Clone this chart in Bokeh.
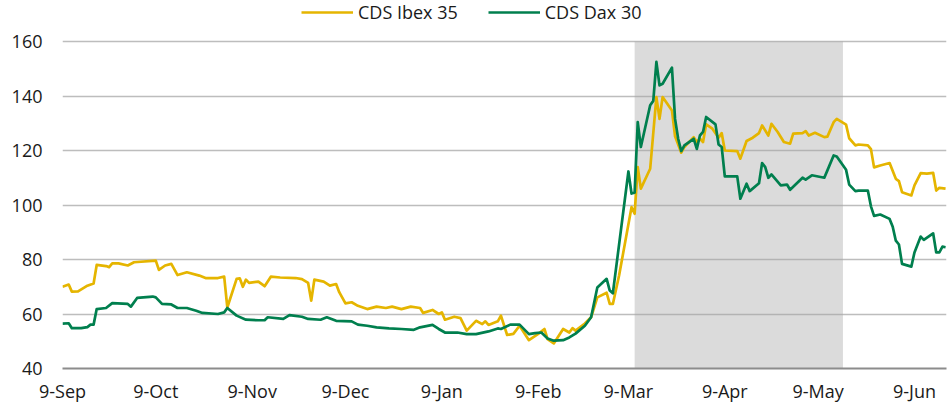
import pandas as pd
from bokeh.plotting import figure
from bokeh.models import Legend, LegendItem, BoxAnnotation, Range1d, FixedTicker, ColumnDataSource
from bokeh.embed import file_html
from bokeh.resources import INLINE

# ---------------- data ----------------
ibex_dates = ["2019-09-09", "2019-09-11", "2019-09-12", "2019-09-14", "2019-09-17", "2019-09-19", "2019-09-20",
              "2019-09-23", "2019-09-24", "2019-09-25", "2019-09-27", "2019-09-30", "2019-10-02", "2019-10-09",
              "2019-10-10", "2019-10-12", "2019-10-14", "2019-10-16", "2019-10-19", "2019-10-23", "2019-10-25",
              "2019-10-29", "2019-10-31", "2019-11-01", "2019-11-04", "2019-11-05", "2019-11-06", "2019-11-07",
              "2019-11-08", "2019-11-11", "2019-11-13", "2019-11-15", "2019-11-18", "2019-11-23", "2019-11-25",
              "2019-11-27", "2019-11-28", "2019-11-29", "2019-12-02", "2019-12-04", "2019-12-06", "2019-12-07",
              "2019-12-09", "2019-12-11", "2019-12-13", "2019-12-16", "2019-12-19", "2019-12-22", "2019-12-24",
              "2019-12-27", "2019-12-30", "2020-01-02", "2020-01-03", "2020-01-06", "2020-01-08", "2020-01-09",
              "2020-01-10", "2020-01-13", "2020-01-15", "2020-01-17", "2020-01-20", "2020-01-22", "2020-01-23",
              "2020-01-24", "2020-01-27", "2020-01-28", "2020-01-30", "2020-02-01", "2020-02-03", "2020-02-06",
              "2020-02-09", "2020-02-11", "2020-02-12", "2020-02-14", "2020-02-17", "2020-02-19", "2020-02-20",
              "2020-02-21", "2020-02-24", "2020-02-26", "2020-02-28", "2020-03-02", "2020-03-03", "2020-03-04",
              "2020-03-06", "2020-03-10", "2020-03-11", "2020-03-12", "2020-03-13", "2020-03-16", "2020-03-18",
              "2020-03-19", "2020-03-20", "2020-03-23", "2020-03-24", "2020-03-26", "2020-03-27", "2020-03-30",
              "2020-03-31", "2020-04-01", "2020-04-02", "2020-04-03", "2020-04-05", "2020-04-07", "2020-04-08",
              "2020-04-09", "2020-04-13", "2020-04-14", "2020-04-16", "2020-04-18", "2020-04-20", "2020-04-21",
              "2020-04-23", "2020-04-24", "2020-04-26", "2020-04-28", "2020-04-30", "2020-05-01", "2020-05-04",
              "2020-05-05", "2020-05-06", "2020-05-08", "2020-05-11", "2020-05-12", "2020-05-14", "2020-05-15",
              "2020-05-18", "2020-05-19", "2020-05-21", "2020-05-22", "2020-05-25", "2020-05-26", "2020-05-27",
              "2020-05-29", "2020-06-01", "2020-06-03", "2020-06-04", "2020-06-05", "2020-06-08", "2020-06-09",
              "2020-06-11", "2020-06-13", "2020-06-15", "2020-06-16", "2020-06-17", "2020-06-19"]
ibex_values = [70.0, 70.8, 68.2, 68.3, 70.4, 71.2, 78.0,
               77.6, 77.2, 78.6, 78.6, 77.8, 79.0, 79.6,
               76.2, 77.8, 78.4, 74.3, 75.3, 74.1, 73.2,
               73.2, 73.7, 62.4, 72.9, 73.1, 70.0, 72.6,
               71.4, 71.9, 70.2, 73.7, 73.4, 73.2, 72.8,
               71.4, 64.9, 72.6, 71.9, 70.4, 71.0, 68.0,
               63.9, 64.3, 63.0, 61.8, 62.7, 62.2, 62.7,
               61.8, 62.7, 62.2, 60.4, 61.5, 60.0, 60.6,
               57.9, 59.0, 58.5, 53.9, 57.5, 56.3, 57.3,
               56.0, 57.3, 59.4, 52.3, 52.7, 55.7, 50.4,
               52.7, 54.5, 50.8, 49.2, 54.5, 53.2, 54.8,
               53.9, 56.5, 58.8, 66.1, 67.8, 63.7, 63.7,
               74.1, 99.2, 96.8, 113.9, 106.0, 113.3, 139.6,
               131.6, 139.6, 134.7, 125.2, 119.2, 121.3, 124.9,
               123.1, 124.3, 123.1, 129.6, 128.0, 124.7, 126.4,
               120.0, 119.8, 117.0, 123.5, 124.7, 126.4, 129.2,
               125.5, 129.8, 126.8, 123.1, 122.5, 126.2, 126.4,
               127.1, 125.5, 126.5, 124.9, 125.1, 130.4, 131.6,
               129.5, 124.5, 121.9, 122.2, 121.9, 120.5, 113.8,
               114.5, 115.4, 109.6, 108.8, 104.7, 103.5, 107.2,
               111.7, 111.5, 111.8, 105.3, 106.3, 106.0]

dax_dates = ["2019-09-09", "2019-09-11", "2019-09-12", "2019-09-15", "2019-09-17", "2019-09-18", "2019-09-19",
             "2019-09-20", "2019-09-23", "2019-09-25", "2019-09-30", "2019-10-01", "2019-10-03", "2019-10-08",
             "2019-10-09", "2019-10-11", "2019-10-14", "2019-10-16", "2019-10-19", "2019-10-22", "2019-10-24",
             "2019-10-29", "2019-10-31", "2019-11-01", "2019-11-04", "2019-11-07", "2019-11-11", "2019-11-13",
             "2019-11-14", "2019-11-19", "2019-11-21", "2019-11-25", "2019-11-27", "2019-12-01", "2019-12-03",
             "2019-12-06", "2019-12-11", "2019-12-13", "2019-12-16", "2019-12-19", "2019-12-23", "2019-12-27",
             "2019-12-31", "2020-01-02", "2020-01-06", "2020-01-08", "2020-01-10", "2020-01-14", "2020-01-17",
             "2020-01-20", "2020-01-24", "2020-01-27", "2020-01-28", "2020-01-31", "2020-02-03", "2020-02-06",
             "2020-02-08", "2020-02-10", "2020-02-12", "2020-02-14", "2020-02-17", "2020-02-19", "2020-02-21",
             "2020-02-24", "2020-02-26", "2020-02-28", "2020-03-02", "2020-03-03", "2020-03-04", "2020-03-09",
             "2020-03-10", "2020-03-11", "2020-03-12", "2020-03-13", "2020-03-16", "2020-03-17", "2020-03-18",
             "2020-03-19", "2020-03-20", "2020-03-23", "2020-03-24", "2020-03-25", "2020-03-26", "2020-03-27",
             "2020-03-30", "2020-03-31", "2020-04-01", "2020-04-02", "2020-04-03", "2020-04-06", "2020-04-07",
             "2020-04-08", "2020-04-09", "2020-04-13", "2020-04-14", "2020-04-16", "2020-04-17", "2020-04-20",
             "2020-04-21", "2020-04-22", "2020-04-23", "2020-04-24", "2020-04-27", "2020-04-29", "2020-04-30",
             "2020-05-04", "2020-05-05", "2020-05-07", "2020-05-11", "2020-05-12", "2020-05-14", "2020-05-15",
             "2020-05-18", "2020-05-19", "2020-05-21", "2020-05-22", "2020-05-25", "2020-05-26", "2020-05-27",
             "2020-05-29", "2020-06-01", "2020-06-02", "2020-06-03", "2020-06-04", "2020-06-05", "2020-06-08",
             "2020-06-09", "2020-06-11", "2020-06-12", "2020-06-15", "2020-06-16", "2020-06-17", "2020-06-18",
             "2020-06-19"]
dax_values = [56.5, 56.6, 54.8, 54.8, 55.2, 56.1, 56.1,
              61.8, 62.2, 64.0, 63.7, 62.7, 65.9, 66.4,
              66.1, 63.7, 63.5, 62.2, 62.2, 61.2, 60.4,
              60.0, 60.6, 62.2, 59.4, 57.9, 57.7, 57.7,
              58.8, 58.2, 59.6, 59.0, 58.2, 57.9, 58.8,
              57.5, 57.3, 56.1, 55.7, 55.1, 54.7, 54.5,
              54.2, 55.1, 56.0, 54.5, 53.2, 53.2, 52.6,
              52.6, 53.6, 54.7, 54.5, 56.1, 56.1, 52.6,
              53.0, 53.2, 51.0, 50.2, 50.4, 51.4, 52.8,
              55.7, 58.8, 69.7, 72.9, 68.6, 67.6, 112.3,
              104.2, 104.5, 130.4, 121.3, 136.6, 138.2, 152.5,
              143.9, 144.5, 150.4, 131.6, 124.3, 119.8, 121.9,
              124.3, 120.6, 125.5, 126.8, 132.3, 129.6, 122.2,
              121.3, 110.5, 110.5, 102.3, 107.8, 105.1, 108.0,
              115.4, 113.9, 110.0, 111.2, 107.2, 107.5, 105.6,
              110.0, 109.3, 110.9, 110.0, 112.7, 118.2, 117.8,
              112.9, 107.5, 105.1, 105.3, 105.3, 99.5, 96.0,
              96.5, 94.9, 92.0, 86.9, 85.5, 78.4, 77.4,
              82.6, 88.4, 87.2, 89.6, 82.6, 82.6, 84.7,
              84.5]

series_names = ["CDS Ibex 35", "CDS Dax 30"]
series_colors = ["#E5B500", "#007F4E"]

tick_dates = ["2019-09-09", "2019-10-09", "2019-11-09", "2019-12-09", "2020-01-09",
              "2020-02-09", "2020-03-09", "2020-04-09", "2020-05-09", "2020-06-09"]
tick_labels = ["9-Sep", "9-Oct", "9-Nov", "9-Dec", "9-Jan", "9-Feb", "9-Mar", "9-Apr", "9-May", "9-Jun"]
y_ticks = [40, 60, 80, 100, 120, 140, 160]

shade_start = "2020-03-11"
shade_end = "2020-05-17"

origin = pd.Timestamp("2019-09-09")
def day(s):
    return (pd.Timestamp(s) - origin) / pd.Timedelta(days=1)

x_end = day("2020-06-19") + 0.3

# ---------------- figure ----------------
# the frame reaches the top edge so the legend can sit inside it, above the 160 gridline
FONT = "Open Sans"
y_min, y_max = y_ticks[0], y_ticks[-1]
px_per_unit = 327 / (y_max - y_min)
y_top = y_min + 368 / px_per_unit

p = figure(width=947, height=410, output_backend="svg", toolbar_location=None,
           x_range=Range1d(0, x_end), y_range=Range1d(y_min, y_top),
           min_border_left=62, min_border_right=1, min_border_top=0, min_border_bottom=42)
p.outline_line_color = None
p.background_fill_color = "white"
p.border_fill_color = "white"

shade = BoxAnnotation(left=day(shade_start), right=day(shade_end), bottom=y_min, top=y_max,
                      fill_color="#A6A6A6", fill_alpha=0.4, line_color=None, level="underlay")
p.add_layout(shade)

renderers = []
for dates, vals, color in [(ibex_dates, ibex_values, series_colors[0]),
                           (dax_dates, dax_values, series_colors[1])]:
    src = ColumnDataSource(dict(x=[day(d) for d in dates], y=vals))
    r = p.line("x", "y", source=src, line_color=color, line_width=2.7, line_join="round")
    renderers.append(r)

# axes
tick_x = [day(d) for d in tick_dates]
p.xaxis.ticker = FixedTicker(ticks=tick_x)
p.xaxis.major_label_overrides = {t: lab for t, lab in zip(tick_x, tick_labels)}
p.xaxis.axis_line_color = "#8C8C8C"
p.xaxis.axis_line_width = 2
p.xaxis.major_tick_line_color = None
p.xaxis.minor_tick_line_color = None
p.xaxis.major_tick_out = 0
p.xaxis.major_label_standoff = 10
p.xaxis.major_label_text_font = FONT
p.xaxis.major_label_text_font_size = "18px"
p.xaxis.major_label_text_color = "#1A1A1A"

p.yaxis.ticker = FixedTicker(ticks=y_ticks)
p.yaxis.axis_line_color = None
p.yaxis.major_tick_line_color = None
p.yaxis.minor_tick_line_color = None
p.yaxis.major_tick_out = 0
p.yaxis.major_label_standoff = 20
p.yaxis.major_label_text_font = FONT
p.yaxis.major_label_text_font_size = "18px"
p.yaxis.major_label_text_color = "#1A1A1A"

p.xgrid.visible = False
p.ygrid.ticker = FixedTicker(ticks=y_ticks[1:])
p.ygrid.grid_line_color = "#BDBDBD"
p.ygrid.grid_line_width = 1.5

legend = Legend(items=[LegendItem(label=n, renderers=[r]) for n, r in zip(series_names, renderers)],
                location=(239, 344), orientation="horizontal", border_line_color=None,
                background_fill_alpha=0, glyph_width=52, glyph_height=24, label_height=24,
                label_standoff=5, spacing=30, padding=0, margin=0, label_text_font=FONT,
                label_text_font_size="18px", label_text_color="#1A1A1A")
p.add_layout(legend)

open("out.html", "w").write(file_html(p, INLINE))
